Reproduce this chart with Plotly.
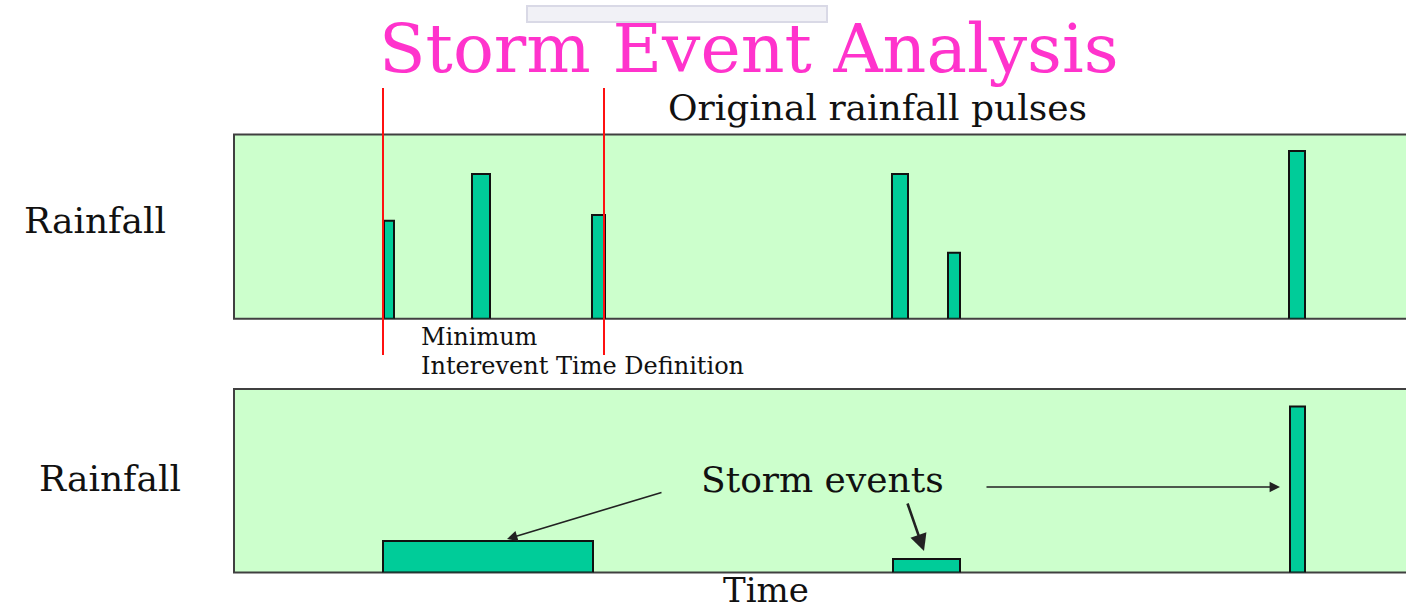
import plotly.graph_objects as go

# ---------------- data (time units, rainfall units) ----------------
pulse_time = [15.5, 24.7, 36.45, 66.6, 72.0, 106.3]
pulse_width = [1.0, 1.8, 1.3, 1.6, 1.2, 1.6]
pulse_depth = [5.32, 7.86, 5.63, 7.86, 3.58, 9.10]

event_time = [25.4, 69.25, 106.35]
event_width = [21.0, 6.7, 1.5]
event_depth = [1.72, 0.74, 9.04]

mitd_bounds = [14.9, 37.0]   # minimum interevent time definition markers

title_text = "Storm Event Analysis"
top_label = "Original rainfall pulses"
y_label = "Rainfall"
x_label = "Time"
mitd_label = ["Minimum", "Interevent Time Definition"]
events_label = "Storm events"

# ---------------- layout helpers ----------------
W, H = 1406, 610
def px(x):
    return x / W
def py(y):
    return 1 - y / H

BG = "#CCFFCC"
BAR = "#00CC99"
EDGE = "#404040"
FONT = "DejaVu Serif"

fig = go.Figure()
fig.add_trace(go.Bar(x=pulse_time, y=pulse_depth, width=pulse_width, base=0,
                     marker=dict(color=BAR, line=dict(color="#111111", width=2)),
                     xaxis="x", yaxis="y", hoverinfo="skip", showlegend=False))
fig.add_trace(go.Bar(x=event_time, y=event_depth, width=event_width, base=0,
                     marker=dict(color=BAR, line=dict(color="#111111", width=2)),
                     xaxis="x2", yaxis="y2", hoverinfo="skip", showlegend=False))

ax_common = dict(showgrid=False, zeroline=False, showticklabels=False, ticks="",
                 showline=False, fixedrange=True)
top_dom = [py(318.7), py(134.5)]
bot_dom = [py(572.5), py(389)]
fig.update_layout(
    width=W, height=H, margin=dict(l=0, r=0, t=0, b=0),
    paper_bgcolor="white", plot_bgcolor="rgba(0,0,0,0)",
    bargap=0, barmode="overlay",
    xaxis=dict(domain=[px(234), 1], range=[0, 117.2], anchor="y", **ax_common),
    yaxis=dict(domain=top_dom, range=[0, 10], anchor="x", **ax_common),
    xaxis2=dict(domain=[px(234), 1], range=[0, 117.2], anchor="y2", **ax_common),
    yaxis2=dict(domain=bot_dom, range=[0, 10], anchor="x2", **ax_common),
)

shapes = []
# faint box at the very top
shapes.append(dict(type="rect", xref="paper", yref="paper",
                   x0=px(527), x1=px(827), y0=py(22), y1=py(6),
                   fillcolor="#F1F1F6", line=dict(color="#D9D9E6", width=2), layer="below"))
# panel backgrounds + borders
for dom in (top_dom, bot_dom):
    shapes.append(dict(type="rect", xref="paper", yref="paper",
                       x0=px(234), x1=1.02, y0=dom[0], y1=dom[1],
                       fillcolor=BG, line=dict(color=EDGE, width=2), layer="below"))
# MITD red marker lines
for xb in mitd_bounds:
    shapes.append(dict(type="line", xref="x", yref="paper",
                       x0=xb, x1=xb, y0=py(355), y1=py(88),
                       line=dict(color="#FF1010", width=2), layer="above"))
fig.update_layout(shapes=shapes)

ann = []
def text(t, x, y, size, color="#111111", xanchor="center"):
    ann.append(dict(text=t, xref="paper", yref="paper", x=px(x), y=py(y),
                    xanchor=xanchor, yanchor="middle", showarrow=False,
                    font=dict(family=FONT, size=size, color=color)))

text(title_text, 749, 72 - 0.346 * 68, 68, color="#FF33CC")
text(top_label, 877, 120 - 0.346 * 36, 36)
text(y_label, 95, 233 - 0.346 * 36, 36)
text(y_label, 110, 491 - 0.346 * 36, 36)
text(mitd_label[0], 419, 345 - 0.346 * 24, 24, xanchor="left")
text(mitd_label[1], 419, 374 - 0.346 * 24, 24, xanchor="left")
text(events_label, 822, 492 - 0.346 * 36, 36)
text(x_label, 766, 602 - 0.346 * 34, 34)

def arrow(head, tail, width):
    ann.append(dict(text="", xref="paper", yref="paper", x=px(head[0]), y=py(head[1]),
                    ax=tail[0] - head[0], ay=tail[1] - head[1],
                    showarrow=True, arrowhead=2, arrowsize=1.3, arrowwidth=width,
                    arrowcolor="#222222"))

arrow((507, 539), (663, 492), 1.6)
arrow((924, 551), (907, 502), 2.6)
arrow((1280, 487), (985, 487), 1.6)

fig.update_layout(annotations=ann)
fig.write_html("out.html", config={"displayModeBar": False, "staticPlot": True},
               post_script="document.body.style.margin='0';document.body.style.overflow='hidden';")
